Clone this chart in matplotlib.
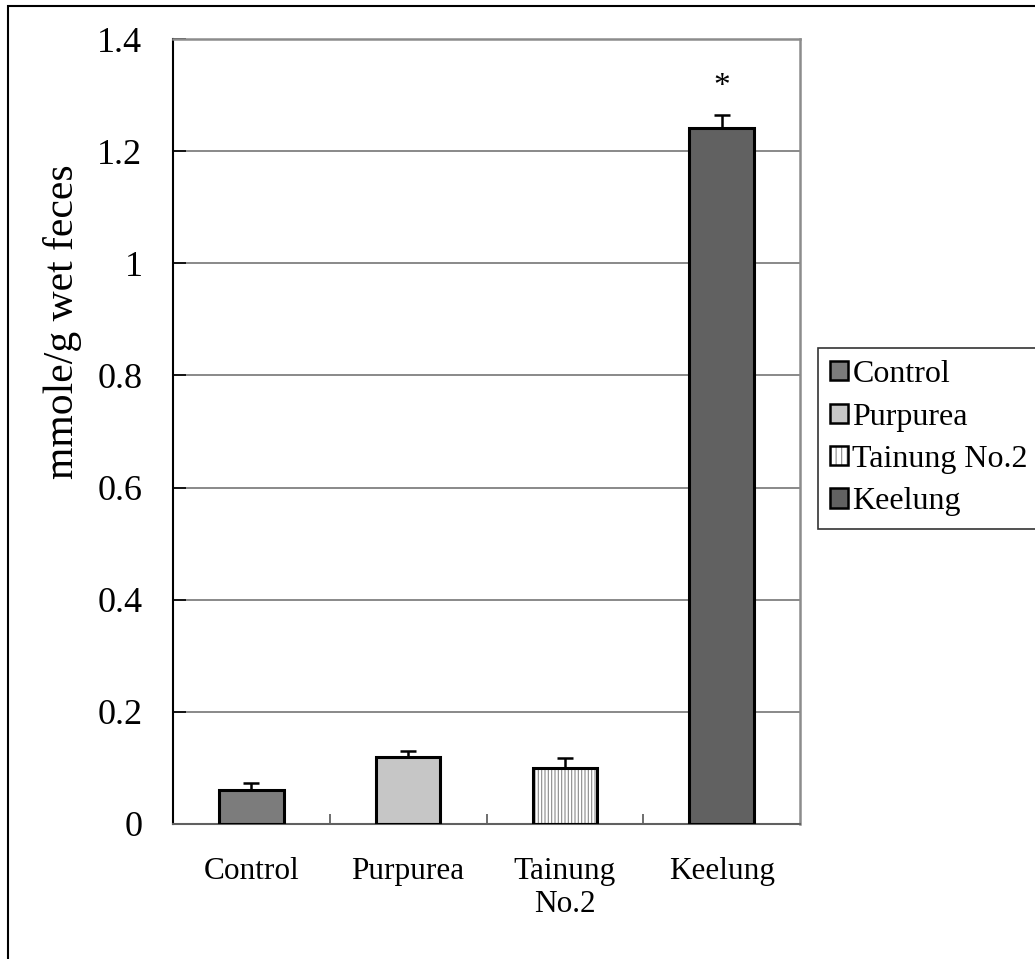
import matplotlib
matplotlib.use('Agg')
import matplotlib.pyplot as plt
from matplotlib.patches import Patch, Rectangle
import numpy as np

plt.rcParams['font.family'] = ['Liberation Serif', 'DejaVu Serif']
plt.rcParams['hatch.linewidth'] = 0.8

groups = ['Control', 'Purpurea', 'Tainung No.2', 'Keelung']
tick_labels = ['Control', 'Purpurea', 'Tainung\nNo.2', 'Keelung']
values = [0.06, 0.12, 0.10, 1.242]
errors = [0.013, 0.010, 0.017, 0.023]
fills = ['#7c7c7c', '#c6c6c6', '#ffffff', '#616161']
hatches = [None, None, '|||||', None]

W, H = 1035, 959
fig = plt.figure(figsize=(W / 100, H / 100), dpi=100)

# outer frame (runs off the right and bottom of the image)
fig.add_artist(Rectangle((8 / W, -0.1), 1.2, 1.1 - 6 / H, transform=fig.transFigure,
                         fill=False, edgecolor='black', linewidth=1.5))

ax = fig.add_axes([173 / W, 1 - 824 / H, (800 - 173) / W, (824 - 39) / H])

x = np.arange(len(groups))
handles = []
for i in range(len(groups)):
    if hatches[i]:
        ax.bar(x[i], values[i], 0.41, color=fills[i], hatch=hatches[i],
               edgecolor='#8a8a8a', linewidth=0, zorder=2)
    else:
        ax.bar(x[i], values[i], 0.41, color=fills[i], linewidth=0, zorder=2)
    ax.bar(x[i], values[i], 0.41, fill=False, edgecolor='black', linewidth=2.2, zorder=3)
    if hatches[i]:
        h = (Patch(facecolor=fills[i], hatch='|||', edgecolor='#8a8a8a', linewidth=0),
             Patch(fill=False, edgecolor='black', linewidth=1.8))
    else:
        h = Patch(facecolor=fills[i], edgecolor='black', linewidth=1.8)
    handles.append(h)

ax.errorbar(x, values, yerr=[np.zeros(len(x)), errors], fmt='none', ecolor='black',
            elinewidth=1.8, capsize=6, capthick=1.8, zorder=4)

ax.annotate('*', xy=(3, values[3] + errors[3]), xytext=(0, 14), textcoords='offset points',
            ha='center', va='baseline', fontsize=24)

ax.set_xlim(-0.5, 3.5)
ax.set_ylim(0, 1.4)
ax.set_yticks(np.arange(0, 1.41, 0.2))
ax.set_yticklabels(['0', '0.2', '0.4', '0.6', '0.8', '1', '1.2', '1.4'], fontsize=26)
ax.tick_params(axis='y', direction='in', length=9, width=1.2, pad=22)

ax.set_xticks(x)
ax.set_xticklabels(tick_labels, fontsize=22.5, va='top', linespacing=1.15)
ax.tick_params(axis='x', which='major', length=0, pad=24)
ax.set_xticks([0.5, 1.5, 2.5], minor=True)
ax.tick_params(axis='x', which='minor', direction='in', length=7, width=1.2, color='#555555')

ax.yaxis.grid(True, color='#808080', linewidth=1.3)
ax.set_axisbelow(True)
ax.spines['left'].set_color('black')
ax.spines['left'].set_linewidth(1.5)
ax.spines['bottom'].set_color('#606060')
ax.spines['bottom'].set_linewidth(1.5)
for s in ['top', 'right']:
    ax.spines[s].set_color('#8c8c8c')
    ax.spines[s].set_linewidth(1.8)

fig.text(63 / W, 1 - 322 / H, 'mmole/g wet feces', rotation=90, ha='center', va='center',
         fontsize=30)

leg = fig.legend(handles, groups, loc='upper left', bbox_to_anchor=(818 / W, 1 - 348 / H),
                 fontsize=23, frameon=True, fancybox=False, edgecolor='black',
                 handlelength=0.55, handleheight=0.55, handletextpad=0.15,
                 labelspacing=0.42, borderpad=0.38, borderaxespad=0)
leg.get_frame().set_linewidth(1.2)

fig.savefig('out.png', dpi=100, facecolor='white')
